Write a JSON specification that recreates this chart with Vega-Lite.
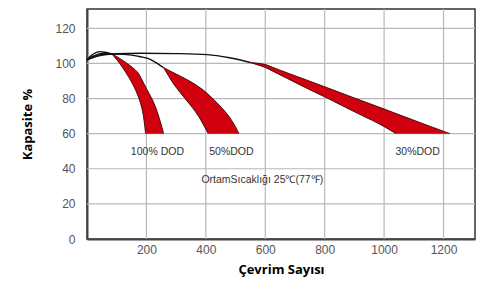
{
  "$schema": "https://vega.github.io/schema/vega-lite/v6.json",
  "width": 388,
  "height": 230,
  "autosize": {"type": "none"},
  "padding": {"left": 87, "top": 9, "right": 5, "bottom": 46},
  "background": "white",
  "config": {
    "view": {"stroke": "#333", "strokeWidth": 1.5},
    "axis": {
      "labelFont": "Liberation Sans",
      "labelFontSize": 12,
      "labelColor": "#555",
      "labelOverlap": false,
      "titleFont": "Open Sans",
      "titleFontWeight": "bold",
      "titleFontSize": 13,
      "titleColor": "#000",
      "domainColor": "#444",
      "domainWidth": 2,
      "tickSize": 0,
      "grid": false
    }
  },
  "datasets": {
    "grid": [
      {"g": "x200", "k": 0, "cycles": 200, "cap": 0}, {"g": "x200", "k": 1, "cycles": 200, "cap": 131},
      {"g": "x400", "k": 0, "cycles": 400, "cap": 0}, {"g": "x400", "k": 1, "cycles": 400, "cap": 131},
      {"g": "x600", "k": 0, "cycles": 600, "cap": 0}, {"g": "x600", "k": 1, "cycles": 600, "cap": 131},
      {"g": "x800", "k": 0, "cycles": 800, "cap": 0}, {"g": "x800", "k": 1, "cycles": 800, "cap": 131},
      {"g": "x1000", "k": 0, "cycles": 1000, "cap": 0}, {"g": "x1000", "k": 1, "cycles": 1000, "cap": 131},
      {"g": "x1200", "k": 0, "cycles": 1200, "cap": 0}, {"g": "x1200", "k": 1, "cycles": 1200, "cap": 131},
      {"g": "y20", "k": 0, "cycles": 0, "cap": 20}, {"g": "y20", "k": 1, "cycles": 1306, "cap": 20},
      {"g": "y40", "k": 0, "cycles": 0, "cap": 40}, {"g": "y40", "k": 1, "cycles": 1306, "cap": 40},
      {"g": "y60", "k": 0, "cycles": 0, "cap": 60}, {"g": "y60", "k": 1, "cycles": 1306, "cap": 60},
      {"g": "y80", "k": 0, "cycles": 0, "cap": 80}, {"g": "y80", "k": 1, "cycles": 1306, "cap": 80},
      {"g": "y100", "k": 0, "cycles": 0, "cap": 100}, {"g": "y100", "k": 1, "cycles": 1306, "cap": 100},
      {"g": "y120", "k": 0, "cycles": 0, "cap": 120}, {"g": "y120", "k": 1, "cycles": 1306, "cap": 120}
    ],
    "bands": [
      {"band": "100", "cap": 105, "cycles": 86, "hi": 90},
      {"band": "100", "cap": 100, "cycles": 110, "hi": 135},
      {"band": "100", "cap": 95, "cycles": 130, "hi": 170},
      {"band": "100", "cap": 90, "cycles": 148, "hi": 187},
      {"band": "100", "cap": 85, "cycles": 163, "hi": 202},
      {"band": "100", "cap": 80, "cycles": 175, "hi": 218},
      {"band": "100", "cap": 75, "cycles": 184, "hi": 231},
      {"band": "100", "cap": 70, "cycles": 190, "hi": 241},
      {"band": "100", "cap": 65, "cycles": 194, "hi": 250},
      {"band": "100", "cap": 60, "cycles": 197, "hi": 258},
      {"band": "50", "cap": 97.7, "cycles": 257, "hi": 257},
      {"band": "50", "cap": 95, "cycles": 267, "hi": 288},
      {"band": "50", "cap": 90, "cycles": 285, "hi": 345},
      {"band": "50", "cap": 85, "cycles": 306, "hi": 390},
      {"band": "50", "cap": 80, "cycles": 330, "hi": 423},
      {"band": "50", "cap": 75, "cycles": 354, "hi": 452},
      {"band": "50", "cap": 70, "cycles": 375, "hi": 477},
      {"band": "50", "cap": 65, "cycles": 392, "hi": 496},
      {"band": "50", "cap": 60, "cycles": 408, "hi": 512},
      {"band": "30", "cap": 100.5, "cycles": 550, "hi": 550},
      {"band": "30", "cap": 99.4, "cycles": 570, "hi": 600},
      {"band": "30", "cap": 97.7, "cycles": 600, "hi": 626},
      {"band": "30", "cap": 95, "cycles": 632, "hi": 668},
      {"band": "30", "cap": 90, "cycles": 691, "hi": 748},
      {"band": "30", "cap": 85, "cycles": 750, "hi": 827},
      {"band": "30", "cap": 80, "cycles": 812, "hi": 905},
      {"band": "30", "cap": 75, "cycles": 870, "hi": 985},
      {"band": "30", "cap": 70, "cycles": 930, "hi": 1063},
      {"band": "30", "cap": 65, "cycles": 990, "hi": 1142},
      {"band": "30", "cap": 60, "cycles": 1040, "hi": 1222}
    ],
    "edges": [
      {"s": "e100L", "cycles": 86, "cap": 105}, {"s": "e100L", "cycles": 110, "cap": 100}, {"s": "e100L", "cycles": 130, "cap": 95}, {"s": "e100L", "cycles": 148, "cap": 90}, {"s": "e100L", "cycles": 163, "cap": 85}, {"s": "e100L", "cycles": 175, "cap": 80}, {"s": "e100L", "cycles": 184, "cap": 75}, {"s": "e100L", "cycles": 190, "cap": 70}, {"s": "e100L", "cycles": 194, "cap": 65}, {"s": "e100L", "cycles": 197, "cap": 60},
      {"s": "e100R", "cycles": 90, "cap": 105}, {"s": "e100R", "cycles": 135, "cap": 100}, {"s": "e100R", "cycles": 170, "cap": 95}, {"s": "e100R", "cycles": 187, "cap": 90}, {"s": "e100R", "cycles": 202, "cap": 85}, {"s": "e100R", "cycles": 218, "cap": 80}, {"s": "e100R", "cycles": 231, "cap": 75}, {"s": "e100R", "cycles": 241, "cap": 70}, {"s": "e100R", "cycles": 250, "cap": 65}, {"s": "e100R", "cycles": 258, "cap": 60},
      {"s": "e50L", "cycles": 257, "cap": 97.7}, {"s": "e50L", "cycles": 267, "cap": 95}, {"s": "e50L", "cycles": 285, "cap": 90}, {"s": "e50L", "cycles": 306, "cap": 85}, {"s": "e50L", "cycles": 330, "cap": 80}, {"s": "e50L", "cycles": 354, "cap": 75}, {"s": "e50L", "cycles": 375, "cap": 70}, {"s": "e50L", "cycles": 392, "cap": 65}, {"s": "e50L", "cycles": 408, "cap": 60},
      {"s": "e50R", "cycles": 257, "cap": 97.7}, {"s": "e50R", "cycles": 288, "cap": 95}, {"s": "e50R", "cycles": 345, "cap": 90}, {"s": "e50R", "cycles": 390, "cap": 85}, {"s": "e50R", "cycles": 423, "cap": 80}, {"s": "e50R", "cycles": 452, "cap": 75}, {"s": "e50R", "cycles": 477, "cap": 70}, {"s": "e50R", "cycles": 496, "cap": 65}, {"s": "e50R", "cycles": 512, "cap": 60},
      {"s": "e30L", "cycles": 550, "cap": 100.5}, {"s": "e30L", "cycles": 570, "cap": 99.4}, {"s": "e30L", "cycles": 600, "cap": 97.7}, {"s": "e30L", "cycles": 632, "cap": 95}, {"s": "e30L", "cycles": 691, "cap": 90}, {"s": "e30L", "cycles": 750, "cap": 85}, {"s": "e30L", "cycles": 812, "cap": 80}, {"s": "e30L", "cycles": 870, "cap": 75}, {"s": "e30L", "cycles": 930, "cap": 70}, {"s": "e30L", "cycles": 990, "cap": 65}, {"s": "e30L", "cycles": 1040, "cap": 60},
      {"s": "e30R", "cycles": 550, "cap": 100.5}, {"s": "e30R", "cycles": 600, "cap": 99.4}, {"s": "e30R", "cycles": 626, "cap": 97.7}, {"s": "e30R", "cycles": 668, "cap": 95}, {"s": "e30R", "cycles": 748, "cap": 90}, {"s": "e30R", "cycles": 827, "cap": 85}, {"s": "e30R", "cycles": 905, "cap": 80}, {"s": "e30R", "cycles": 985, "cap": 75}, {"s": "e30R", "cycles": 1063, "cap": 70}, {"s": "e30R", "cycles": 1142, "cap": 65}, {"s": "e30R", "cycles": 1222, "cap": 60}
    ],
    "env": [
      {"s": "A", "cycles": 0, "cap": 102}, {"s": "A", "cycles": 15, "cap": 104.6}, {"s": "A", "cycles": 30, "cap": 106.2}, {"s": "A", "cycles": 45, "cap": 106.7}, {"s": "A", "cycles": 60, "cap": 106.4}, {"s": "A", "cycles": 75, "cap": 105.8}, {"s": "A", "cycles": 86, "cap": 105},
      {"s": "B", "cycles": 0, "cap": 102}, {"s": "B", "cycles": 25, "cap": 104.4}, {"s": "B", "cycles": 50, "cap": 105.7}, {"s": "B", "cycles": 75, "cap": 105.6}, {"s": "B", "cycles": 90, "cap": 105},
      {"s": "C", "cycles": 0, "cap": 102}, {"s": "C", "cycles": 30, "cap": 104.2}, {"s": "C", "cycles": 60, "cap": 105.2}, {"s": "C", "cycles": 100, "cap": 105.3}, {"s": "C", "cycles": 150, "cap": 104.7}, {"s": "C", "cycles": 180, "cap": 103.8}, {"s": "C", "cycles": 213, "cap": 102.3}, {"s": "C", "cycles": 240, "cap": 99.6}, {"s": "C", "cycles": 257, "cap": 97.7},
      {"s": "D", "cycles": 0, "cap": 102}, {"s": "D", "cycles": 40, "cap": 104.3}, {"s": "D", "cycles": 100, "cap": 105.5}, {"s": "D", "cycles": 180, "cap": 105.8}, {"s": "D", "cycles": 300, "cap": 105.6}, {"s": "D", "cycles": 405, "cap": 105}, {"s": "D", "cycles": 480, "cap": 103.2}, {"s": "D", "cycles": 520, "cap": 101.8}, {"s": "D", "cycles": 550, "cap": 100.5}
    ],
    "labels": [
      {"cycles": 237, "cap": 49.7, "label": "100% DOD", "al": "center"},
      {"cycles": 486, "cap": 49.7, "label": "50%DOD", "al": "center"},
      {"cycles": 1113, "cap": 49.7, "label": "30%DOD", "al": "center"},
      {"cycles": 590, "cap": 33.7, "label": "OrtamSıcaklığı 25℃(77℉)", "al": "left"}
    ]
  },
  "encoding": {
    "x": {"field": "cycles", "type": "quantitative", "scale": {"domain": [0, 1306], "nice": false},
      "axis": {"values": [200, 400, 600, 800, 1000, 1200], "format": "d", "title": "Çevrim Sayısı", "labelPadding": 5, "titlePadding": 8, "grid": false}},
    "y": {"field": "cap", "type": "quantitative", "scale": {"domain": [0, 131], "nice": false},
      "axis": {"values": [0, 20, 40, 60, 80, 100, 120], "title": "Kapasite %", "labelPadding": 12, "titlePadding": 20, "grid": false}}
  },
  "layer": [
    {
      "data": {"name": "grid"},
      "mark": {"type": "line", "color": "#b8b8b8", "strokeWidth": 1.2},
      "encoding": {"detail": {"field": "g"}, "order": {"field": "k", "type": "quantitative"}}
    },
    {
      "data": {"name": "bands"},
      "mark": {"type": "area", "color": "#d0000f", "orient": "horizontal", "interpolate": "catmull-rom"},
      "encoding": {
        "x2": {"field": "hi"},
        "detail": {"field": "band"}
      }
    },
    {
      "data": {"name": "edges"},
      "mark": {"type": "line", "color": "#3a0000", "strokeWidth": 0.9, "interpolate": "catmull-rom"},
      "encoding": {"detail": {"field": "s"}}
    },
    {
      "data": {"name": "env"},
      "mark": {"type": "line", "color": "#111", "strokeWidth": 1.4, "interpolate": "monotone"},
      "encoding": {"detail": {"field": "s"}}
    },
    {
      "data": {"name": "labels"},
      "mark": {"type": "text", "font": "Liberation Sans", "fontSize": 10.5, "color": "#333", "baseline": "middle"},
      "encoding": {
        "text": {"field": "label"},
        "align": {"field": "al", "type": "nominal", "scale": null}
      }
    }
  ]
}
